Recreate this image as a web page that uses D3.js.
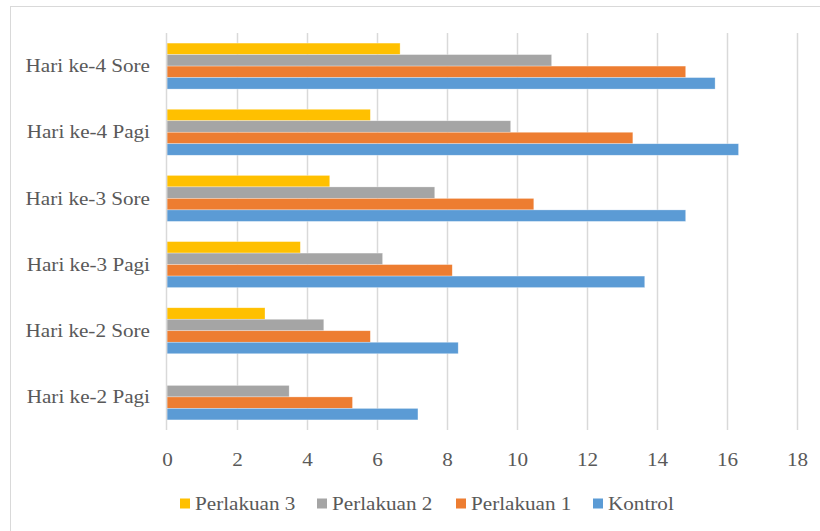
<!DOCTYPE html>
<html>
<head>
<meta charset="utf-8">
<script src="https://cdn.jsdelivr.net/npm/d3@7"></script>
<style>
  body { margin: 0; background: #fff; }
  text { font-family: "Liberation Serif", "Times New Roman", serif; fill: #595959; }
</style>
</head>
<body>
<div id="chart"></div>
<script>
// data, categories listed bottom to top
const categories = ["Hari ke-2 Pagi", "Hari ke-2 Sore", "Hari ke-3 Pagi", "Hari ke-3 Sore", "Hari ke-4 Pagi", "Hari ke-4 Sore"];
const seriesNames = ["Perlakuan 3", "Perlakuan 2", "Perlakuan 1", "Kontrol"];
const perlakuan3 = [0, 2.8, 3.81, 4.65, 5.81, 6.66];
const perlakuan2 = [3.49, 4.48, 6.16, 7.65, 9.82, 10.99];
const perlakuan1 = [5.3, 5.81, 8.15, 10.48, 13.31, 14.82];
const kontrol = [7.17, 8.32, 13.65, 14.82, 16.33, 15.66];
const xTicks = [0, 2, 4, 6, 8, 10, 12, 14, 16, 18];
const colors = ["#FFC000", "#A5A5A5", "#ED7D31", "#5B9BD5"];

const seriesValues = [perlakuan3, perlakuan2, perlakuan1, kontrol];

const W = 820, H = 531;
const plotL = 167, plotR = 797, plotT = 33, plotB = 430;
const stretch = 1.085; // text looks a bit wide in the source picture

const svg = d3.select("#chart").append("svg")
  .attr("width", W)
  .attr("height", H);

// outer chart border (runs off the picture right and bottom)
svg.append("rect")
  .attr("x", 10.5).attr("y", 6.5)
  .attr("width", W + 20).attr("height", H + 20)
  .attr("fill", "#fff")
  .attr("stroke", "#d9d9d9");

// scales
const x = d3.scaleLinear().domain([0, 18]).range([plotL, plotR]);
const y0 = d3.scaleBand().domain(categories).range([plotB, plotT])
  .paddingInner(0.305).paddingOuter(0.1525);
const y1 = d3.scaleBand().domain(seriesNames).range([0, y0.bandwidth()]);

// gridlines
svg.append("g").selectAll("line")
  .data(xTicks.slice(1))
  .join("line")
  .attr("x1", d => Math.round(x(d)) + 0.5)
  .attr("x2", d => Math.round(x(d)) + 0.5)
  .attr("y1", plotT).attr("y2", plotB)
  .attr("stroke", "#d9d9d9")
  .attr("stroke-width", 1.5);

// bars
const groups = svg.append("g").selectAll("g")
  .data(categories)
  .join("g")
  .attr("transform", d => "translate(0," + y0(d) + ")");

groups.selectAll("rect")
  .data((c, i) => seriesNames.map((s, j) => ({ s: s, v: seriesValues[j][i], c: colors[j] })))
  .join("rect")
  .attr("x", x(0))
  .attr("y", d => y1(d.s))
  .attr("width", d => x(d.v) - x(0))
  .attr("height", y1.bandwidth())
  .attr("fill", d => d.c)
  .attr("stroke", "#fff")
  .attr("stroke-opacity", d => d.v > 0 ? 0.5 : 0)
  .attr("stroke-width", 0.6);

// category axis line
svg.append("line")
  .attr("x1", x(0) - 0.5).attr("x2", x(0) - 0.5)
  .attr("y1", plotT).attr("y2", plotB)
  .attr("stroke", "#d9d9d9")
  .attr("stroke-width", 1.5);

// axes (labels only)
const xAxis = d3.axisBottom(x).tickValues(xTicks).tickSize(0).tickPadding(0);
const gx = svg.append("g")
  .attr("transform", "translate(0," + 452 + ")")
  .call(xAxis);
gx.select(".domain").remove();
gx.selectAll("text")
  .attr("dy", "0.71em")
  .attr("transform", "scale(" + stretch + ",1)")
  .style("font-size", "19.5px")
  .style("font-family", "Liberation Serif");

const yAxis = d3.axisLeft(y0).tickSize(0).tickPadding(0);
const gy = svg.append("g")
  .attr("transform", "translate(" + x(0) + ",0)")
  .call(yAxis);
gy.select(".domain").remove();
gy.selectAll("text")
  .attr("x", 0)
  .attr("transform", "translate(-17,0) scale(" + stretch + ",1)")
  .style("font-size", "19.5px")
  .style("font-family", "Liberation Serif");

// legend
const legendX = [180, 317, 456, 593];
const legend = svg.append("g").selectAll("g")
  .data(seriesNames)
  .join("g")
  .attr("transform", (d, i) => "translate(" + legendX[i] + ",503.5)");
legend.append("rect")
  .attr("x", 0).attr("y", -5)
  .attr("width", 10).attr("height", 10)
  .attr("fill", (d, i) => colors[i]);
legend.append("text")
  .attr("x", 0).attr("y", 0)
  .attr("dy", "0.35em")
  .attr("transform", "translate(15,0) scale(" + stretch + ",1)")
  .style("font-size", "19.5px")
  .text(d => d);
</script>
</body>
</html>
